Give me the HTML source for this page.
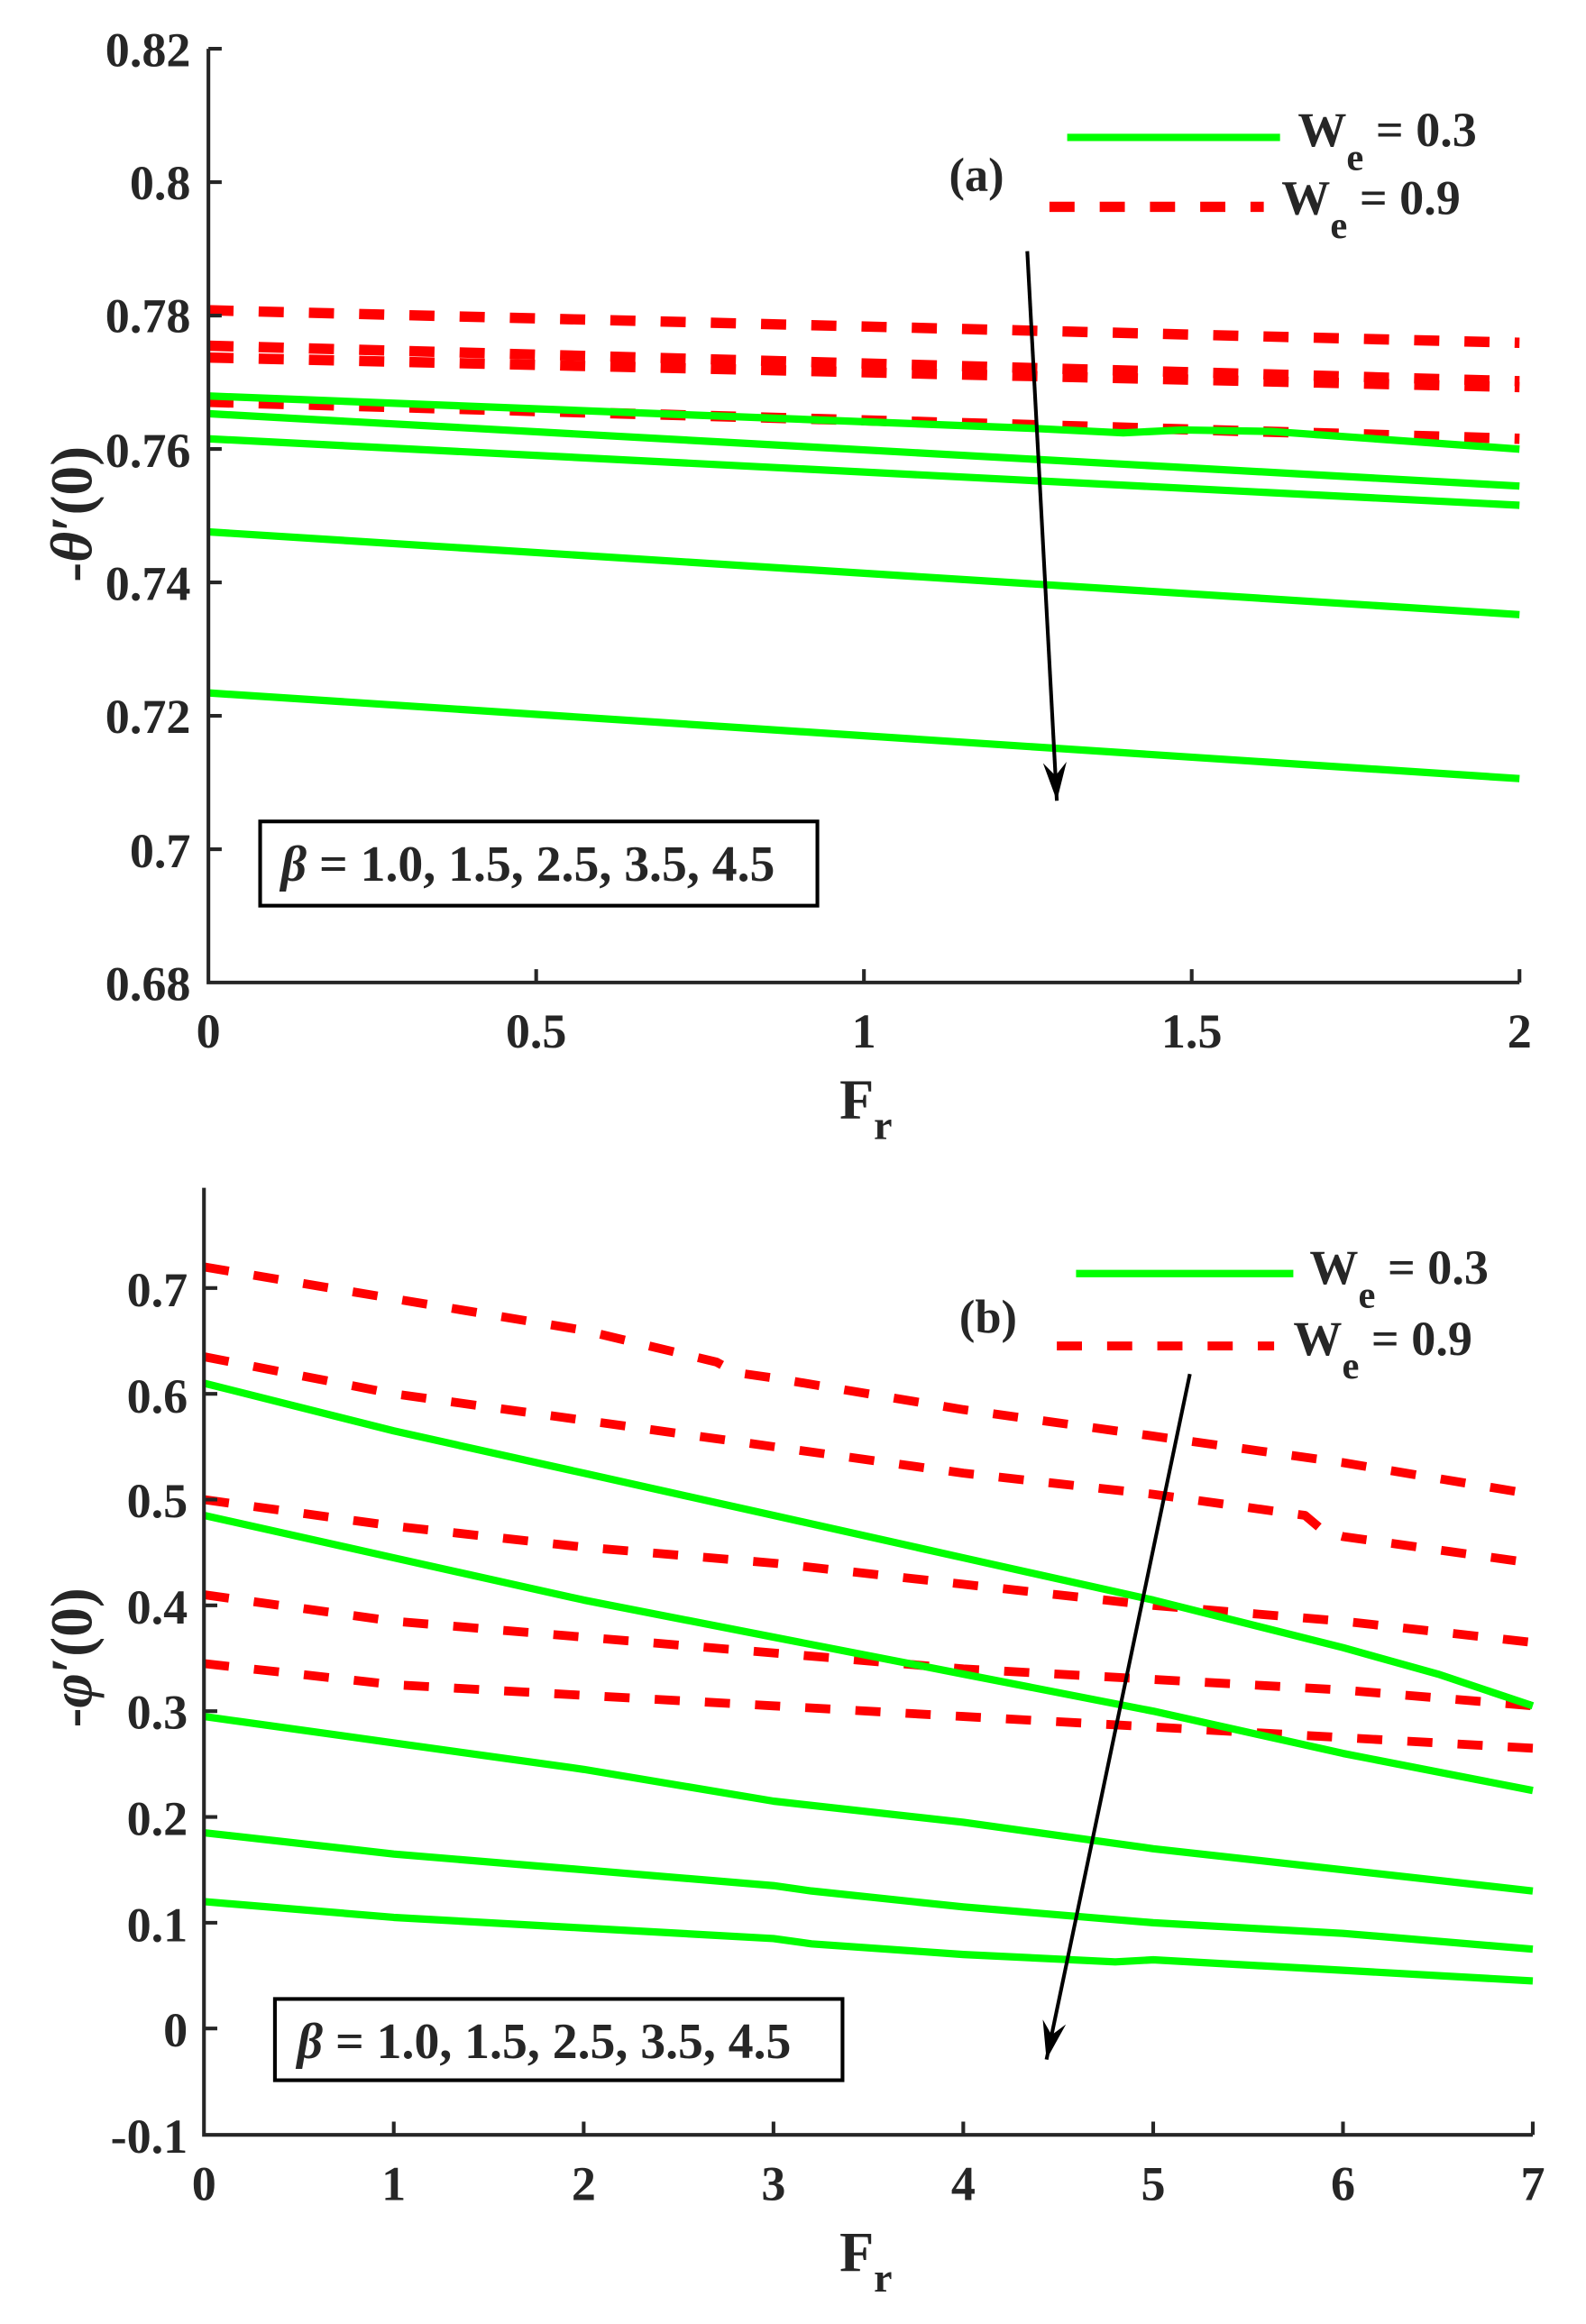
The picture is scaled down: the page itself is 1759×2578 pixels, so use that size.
<!DOCTYPE html>
<html><head><meta charset="utf-8"><style>
html,body{margin:0;padding:0;background:#fff;}
svg{display:block;}
text{font-family:"Liberation Serif",serif;font-weight:bold;fill:#262626;}
</style></head><body>
<svg width="1759" height="2578" viewBox="0 0 1073 1573" preserveAspectRatio="none" xmlns="http://www.w3.org/2000/svg">
<rect width="1073" height="1573" fill="#fff"/>
<defs>
<marker id="ah2" viewBox="0 0 26 16" refX="26" refY="8" markerWidth="26" markerHeight="16" orient="auto" markerUnits="userSpaceOnUse"><path d="M0,0 L26,8 L0,16 L9,8 Z" fill="#000"/></marker></defs>

<!-- ===== Plot (a) ===== -->
<g fill="none" stroke-linecap="butt">
<g stroke="#ff0000" stroke-width="7" stroke-dasharray="17 17">
<path d="M141,210 L1028,232"/>
<path d="M141,234 L1028,258"/>
<path d="M141,242 L1028,262"/>
<path d="M141,272 L1028,297"/>
</g>
<g stroke="#00ff00" stroke-width="5">
<path d="M141,268 L700,290 L760,293 L800,291 L860,292 L1028,304"/>
<path d="M141,280 L1028,329"/>
<path d="M141,297 L1028,342"/>
<path d="M141,360 L1028,416"/>
<path d="M141,469 L1028,527"/>
</g>
</g>
<g stroke="#262626" stroke-width="2.5" fill="none">
<path d="M141,33 L141,665 L1028,665"/>
<path d="M141,33 h9 M141,123.3 h9 M141,213.6 h9 M141,303.9 h9 M141,394.2 h9 M141,484.5 h9 M141,574.8 h9"/>
<path d="M362.75,665 v-9 M584.5,665 v-9 M806.25,665 v-9 M1028,665 v-9"/>
</g>
<g font-size="33" text-anchor="end">
<text x="129" y="45">0.82</text>
<text x="129" y="135">0.8</text>
<text x="129" y="225">0.78</text>
<text x="129" y="316">0.76</text>
<text x="129" y="406">0.74</text>
<text x="129" y="496">0.72</text>
<text x="129" y="587">0.7</text>
<text x="129" y="677">0.68</text>
</g>
<g font-size="33" text-anchor="middle">
<text x="141" y="709">0</text>
<text x="362.75" y="709">0.5</text>
<text x="584.5" y="709">1</text>
<text x="806.25" y="709">1.5</text>
<text x="1028" y="709">2</text>
</g>
<text x="568" y="757" font-size="38">F<tspan font-size="28" dy="14">r</tspan></text>
<text transform="translate(62,348) rotate(-90)" text-anchor="middle" font-size="40">-<tspan font-style="italic">θ</tspan>′(0)</text>
<line x1="695" y1="170" x2="715" y2="542" stroke="#000" stroke-width="2.5" marker-end="url(#ah2)"/>
<line x1="722" y1="93" x2="866" y2="93" stroke="#00ff00" stroke-width="5"/>
<line x1="710" y1="140" x2="855" y2="140" stroke="#ff0000" stroke-width="7" stroke-dasharray="17 17"/>
<text x="878" y="99" font-size="33">W<tspan font-size="26" dy="16">e</tspan><tspan font-size="33" dy="-16"> = 0.3</tspan></text>
<text x="867" y="145" font-size="33">W<tspan font-size="26" dy="16">e</tspan><tspan font-size="33" dy="-16"> = 0.9</tspan></text>
<text x="642" y="129" font-size="32">(a)</text>
<rect x="176" y="556" width="377" height="57" fill="#fff" stroke="#000" stroke-width="2.5"/>
<text x="190" y="596" font-size="34" fill="#000"><tspan font-style="italic">β</tspan> = 1.0, 1.5, 2.5, 3.5, 4.5</text>

<!-- ===== Plot (b) ===== -->
<g fill="none" stroke-linejoin="round">
<g stroke="#ff0000" stroke-width="6" stroke-dasharray="17 17">
<path d="M138,857.5 L266.4,879 L394.9,900.4 L484.8,921.9 L497.6,929 L523.3,932.7 L651.7,954.1 L780.2,972 L908.6,990 L1037,1011.4"/>
<path d="M138,918.3 L266.4,943.4 L394.9,961.3 L523.3,979.2 L651.7,997.1 L780.2,1011.4 L882.9,1025.7 L895.7,1036.5 L908.6,1040 L1037,1058"/>
<path d="M138,1015 L266.4,1032.9 L394.9,1047.2 L523.3,1058 L651.7,1072.3 L780.2,1086.6 L908.6,1097.3 L1037,1111.7"/>
<path d="M138,1079.4 L266.4,1097.3 L394.9,1108.1 L523.3,1118.8 L651.7,1129.6 L780.2,1136.7 L908.6,1143.9 L1037,1154.6"/>
<path d="M138,1126 L266.4,1140.3 L394.9,1147.5 L523.3,1154.6 L651.7,1161.8 L780.2,1168.9 L908.6,1176.1 L1037,1183.3"/>
</g>
<g stroke="#00ff00" stroke-width="5">
<path d="M138,936.2 L266.4,968.5 L394.9,997.1 L523.3,1025.7 L651.7,1054.4 L780.2,1083 L908.6,1115.2 L972.8,1133.1 L1037,1154.6"/>
<path d="M138,1025.7 L266.4,1054.4 L394.9,1083 L523.3,1108.1 L651.7,1133.1 L780.2,1158.2 L908.6,1186.8 L1037,1211.9"/>
<path d="M138,1161.8 L266.4,1179.7 L394.9,1197.6 L523.3,1219.1 L651.7,1233.4 L780.2,1251.3 L908.6,1265.6 L1037,1279.9"/>
<path d="M138,1240.5 L266.4,1254.9 L394.9,1265.6 L523.3,1276.3 L549,1279.9 L651.7,1290.7 L780.2,1301.4 L908.6,1308.6 L1037,1319.3"/>
<path d="M138,1287.1 L266.4,1297.8 L394.9,1305 L523.3,1312.1 L549,1315.7 L651.7,1322.9 L754.5,1327.9 L780.2,1326.5 L908.6,1333.6 L1037,1340.8"/>
</g>
</g>
<g stroke="#262626" stroke-width="2.5" fill="none">
<path d="M138,804 L138,1445 L1037,1445"/>
<path d="M138,871.8 h9 M138,943.4 h9 M138,1015 h9 M138,1086.6 h9 M138,1158.2 h9 M138,1229.8 h9 M138,1301.4 h9 M138,1373 h9"/>
<path d="M266.4,1445 v-9 M394.9,1445 v-9 M523.3,1445 v-9 M651.7,1445 v-9 M780.2,1445 v-9 M908.6,1445 v-9 M1037,1445 v-9"/>
</g>
<g font-size="33" text-anchor="end">
<text x="127" y="884">0.7</text>
<text x="127" y="956">0.6</text>
<text x="127" y="1027">0.5</text>
<text x="127" y="1099">0.4</text>
<text x="127" y="1170">0.3</text>
<text x="127" y="1242">0.2</text>
<text x="127" y="1314">0.1</text>
<text x="127" y="1385">0</text>
<text x="127" y="1457">-0.1</text>
</g>
<g font-size="33" text-anchor="middle">
<text x="138" y="1489">0</text>
<text x="266.4" y="1489">1</text>
<text x="394.9" y="1489">2</text>
<text x="523.3" y="1489">3</text>
<text x="651.7" y="1489">4</text>
<text x="780.2" y="1489">5</text>
<text x="908.6" y="1489">6</text>
<text x="1037" y="1489">7</text>
</g>
<text x="568" y="1537" font-size="38">F<tspan font-size="28" dy="14">r</tspan></text>
<text transform="translate(62,1122) rotate(-90)" text-anchor="middle" font-size="40">-<tspan font-style="italic">φ</tspan>′(0)</text>
<line x1="805" y1="930" x2="708" y2="1394" stroke="#000" stroke-width="2.5" marker-end="url(#ah2)"/>
<line x1="728" y1="862" x2="875" y2="862" stroke="#00ff00" stroke-width="5"/>
<line x1="715" y1="911" x2="862" y2="911" stroke="#ff0000" stroke-width="6" stroke-dasharray="17 17"/>
<text x="886" y="869" font-size="33">W<tspan font-size="26" dy="16">e</tspan><tspan font-size="33" dy="-16"> = 0.3</tspan></text>
<text x="875" y="917" font-size="33">W<tspan font-size="26" dy="16">e</tspan><tspan font-size="33" dy="-16"> = 0.9</tspan></text>
<text x="649" y="902" font-size="32">(b)</text>
<rect x="186" y="1353" width="384" height="55" fill="#fff" stroke="#000" stroke-width="2.5"/>
<text x="201" y="1393" font-size="34" fill="#000"><tspan font-style="italic">β</tspan> = 1.0, 1.5, 2.5, 3.5, 4.5</text>
</svg>
</body></html>
